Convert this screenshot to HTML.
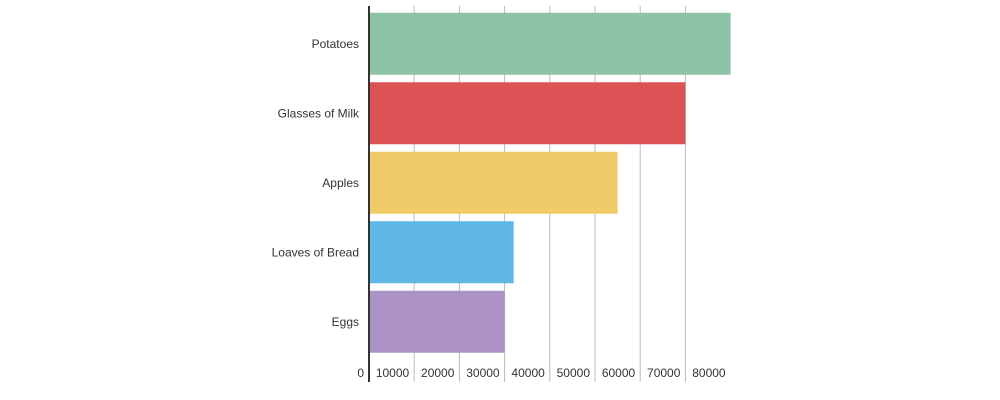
<!DOCTYPE html>
<html><head><meta charset="utf-8"><style>
html,body{margin:0;padding:0;background:#fff;width:1000px;height:400px;overflow:hidden}
text{font-family:"Liberation Sans",Roboto,sans-serif;font-size:12px;fill:#333}
</style></head><body>
<svg id="chart" width="1000" height="400"></svg>
<script>
const categories=["Potatoes","Glasses of Milk","Apples","Loaves of Bread","Eggs"];
const values=[80000,70000,55000,32000,30000];
const colors=["#8ec3a7","#dc5356","#f0cb69","#5fb7e5","#ab91c5"];
const ticks=[0,10000,20000,30000,40000,50000,60000,70000,80000];
const svg=document.getElementById('chart');
const NS='http://www.w3.org/2000/svg';
const x0=369, pxPer=45.2/10000, topY=9, band=69.5, barH=62;
const xs=v=>x0+v*pxPer;
function mk(t,a){const e=document.createElementNS(NS,t);for(const k in a)e.setAttribute(k,a[k]);svg.appendChild(e);return e;}
ticks.forEach((t,i)=>{
  if(t>0&&t<80000){const g=mk('line',{x1:xs(t),x2:xs(t),y1:6,y2:382,stroke:'#bbb','stroke-width':1});
  
  }
  const l=mk('text',{x:xs(t)-5,y:377,'text-anchor':'end'});l.textContent=String(t);
  
  
});
categories.forEach((c,i)=>{
  const y=topY+i*band+(band-barH)/2;
  const r=mk('rect',{x:x0,y:y,width:xs(values[i])-x0,height:barH,fill:colors[i]});
  
  
  const t=mk('text',{x:359,y:y+barH/2+4,'text-anchor':'end'});t.textContent=c;
  
  
});
const ax=mk('line',{x1:x0,x2:x0,y1:6,y2:382,stroke:'#333','stroke-width':2});


</script>
</body></html>
